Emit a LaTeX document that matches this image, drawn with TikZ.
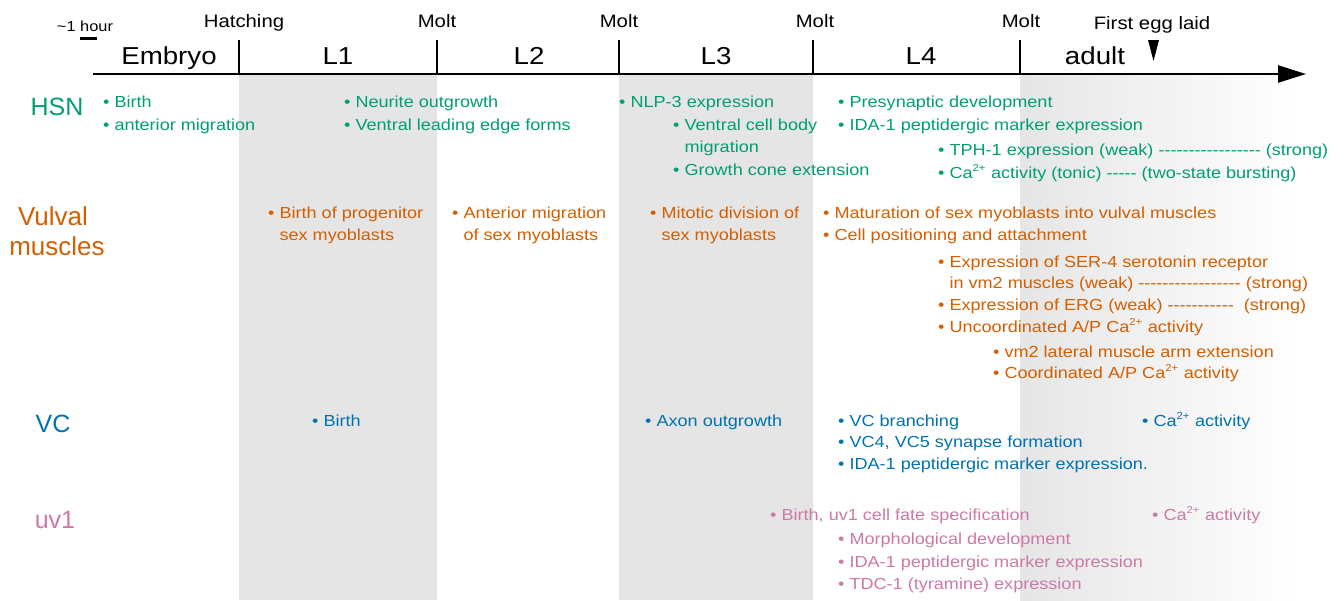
\documentclass[tikz,border=0pt]{standalone}
\usepackage{fontspec}
\setmainfont{Liberation Sans}
\newfontfamily\widesans{Liberation Sans}[FakeStretch=1.13]
\usetikzlibrary{arrows.meta}

\definecolor{hsngreen}{HTML}{009E73}
\definecolor{vmorange}{HTML}{D55E00}
\definecolor{vcblue}{HTML}{0072B2}
\definecolor{uvpink}{HTML}{CC79A7}
\colorlet{bandgray}{black!10}

\newcommand\hy[1]{\foreach \k in {1,...,#1}{-{}}}
\newcommand\ca{Ca\textsuperscript{\fontsize{10}{10}\selectfont 2+}}
\newcommand\bul{\hphantom{• }}

\begin{document}
\begin{tikzpicture}[x=1pt, y=-1pt, >={Triangle[length=28pt,width=17pt]},
  item/.style={anchor=base west, inner sep=0pt, font=\widesans\fontsize{16}{22}\selectfont},
  hsn/.style={item, text=hsngreen},
  vm/.style={item, text=vmorange},
  vc/.style={item, text=vcblue},
  uv/.style={item, text=uvpink},
  cell/.style={anchor=base, inner sep=0pt, font=\fontsize{25}{30}\selectfont},
  stage/.style={anchor=base, inner sep=0pt, font=\widesans\fontsize{24.5}{30}\selectfont},
  event/.style={anchor=base, inner sep=0pt, font=\widesans\fontsize{18}{22}\selectfont}]
 \useasboundingbox (0,0) rectangle (1344,600);
 % grey stages
 \fill [bandgray] (239,75) rectangle (437,600);
 \fill [bandgray] (619,75) rectangle (813,600);
 \shade [left color=bandgray, right color=white] (1020,75) rectangle (1300,600);

 % time line
 \coordinate (t0) at (93,74);
 \coordinate (tend) at (1306,74);
 \draw [->, line width=2.5pt] (t0) -- (tend);
 \foreach \x/\n in {239/hatch, 437/molta, 619/moltb, 813/moltc, 1020/moltd}
  \draw [line width=2pt] (\x,74) coordinate (\n) -- (\x,40);
 \draw [line width=2.5pt] (80,38.5) -- (97,38.5);
 \node [event, font=\widesans\fontsize{14.5}{18}\selectfont] (hour) at (85,31) {\textasciitilde 1 hour};
 \fill (1148,40) -- (1159,40) -- (1153.5,61) -- cycle;

 \node [event] (hatchl) at (244,27) {Hatching};
 \node [event] (moltal) at (437,27) {Molt};
 \node [event] (moltbl) at (619,27) {Molt};
 \node [event] (moltcl) at (815,27) {Molt};
 \node [event] (moltdl) at (1021,27) {Molt};
 \node [event] (egg) at (1152,29) {First egg laid};

 \node [stage] (embryo) at (169,64) {Embryo};
 \node [stage] (lone) at (338,64) {L1};
 \node [stage] (ltwo) at (529,64) {L2};
 \node [stage] (lthree) at (716,64) {L3};
 \node [stage] (lfour) at (921,64) {L4};
 \node [stage] (adult) at (1095,64) {adult};

 % cells
 \node [cell, text=hsngreen] (hsn) at (57,115) {HSN};
 \node [cell, text=vmorange, font=\fontsize{26}{30}\selectfont] (vulval) at (53,225) {Vulval};
 \node [cell, text=vmorange, font=\fontsize{26}{30}\selectfont] (muscles) at (57,255) {muscles};
 \node [cell, text=vcblue] (vc) at (53,432) {VC};
 \node [cell, text=uvpink] (uv) at (55,528) {uv1};

 % HSN
 \node [hsn] (hsna) at (103,107) {• Birth};
 \node [hsn] (hsnb) at (103,130) {• anterior migration};
 \node [hsn] (hsnc) at (344,107) {• Neurite outgrowth};
 \node [hsn] (hsnd) at (344,130) {• Ventral leading edge forms};
 \node [hsn] (hsne) at (619,107) {• NLP-3 expression};
 \node [hsn] (hsnf) at (673,130) {• Ventral cell body};
 \node [hsn] (hsnf2) at (673,152) {\bul migration};
 \node [hsn] (hsng) at (673,175) {• Growth cone extension};
 \node [hsn] (hsnh) at (838,107) {• Presynaptic development};
 \node [hsn] (hsni) at (838,130) {• IDA-1 peptidergic marker expression};
 \node [hsn] (hsnj) at (938,155) {• TPH-1 expression (weak) \hy{17} (strong)};
 \node [hsn] (hsnk) at (938,178) {• \ca\ activity (tonic) \hy{5} (two-state bursting)};

 % vulval muscles
 \node [vm] (vma) at (268,218) {• Birth of progenitor};
 \node [vm] (vma2) at (268,240) {\bul sex myoblasts};
 \node [vm] (vmb) at (452,218) {• Anterior migration};
 \node [vm] (vmb2) at (452,240) {\bul of sex myoblasts};
 \node [vm] (vmc) at (650,218) {• Mitotic division of};
 \node [vm] (vmc2) at (650,240) {\bul sex myoblasts};
 \node [vm] (vmd) at (823,218) {• Maturation of sex myoblasts into vulval muscles};
 \node [vm] (vme) at (823,240) {• Cell positioning and attachment};
 \node [vm] (vmf) at (938,267) {• Expression of SER-4 serotonin receptor};
 \node [vm] (vmf2) at (938,288) {\bul in vm2 muscles (weak) \hy{17} (strong)};
 \node [vm] (vmg) at (938,310) {• Expression of ERG (weak) \hy{11}\ \ (strong)};
 \node [vm] (vmh) at (938,332) {• Uncoordinated A/P \ca\ activity};
 \node [vm] (vmi) at (993,357) {• vm2 lateral muscle arm extension};
 \node [vm] (vmj) at (993,378) {• Coordinated A/P \ca\ activity};

 % VC
 \node [vc] (vca) at (312,426) {• Birth};
 \node [vc] (vcb) at (645,426) {• Axon outgrowth};
 \node [vc] (vcc) at (838,426) {• VC branching};
 \node [vc] (vcd) at (838,447) {• VC4, VC5 synapse formation};
 \node [vc] (vce) at (838,469) {• IDA-1 peptidergic marker expression.};
 \node [vc] (vcf) at (1142,426) {• \ca\ activity};

 % uv1
 \node [uv] (uva) at (770,520) {• Birth, uv1 cell fate specification};
 \node [uv] (uvb) at (838,544) {• Morphological development};
 \node [uv] (uvc) at (838,567) {• IDA-1 peptidergic marker expression};
 \node [uv] (uvd) at (838,589) {• TDC-1 (tyramine) expression};
 \node [uv] (uve) at (1152,520) {• \ca\ activity};
\end{tikzpicture}
\end{document}
